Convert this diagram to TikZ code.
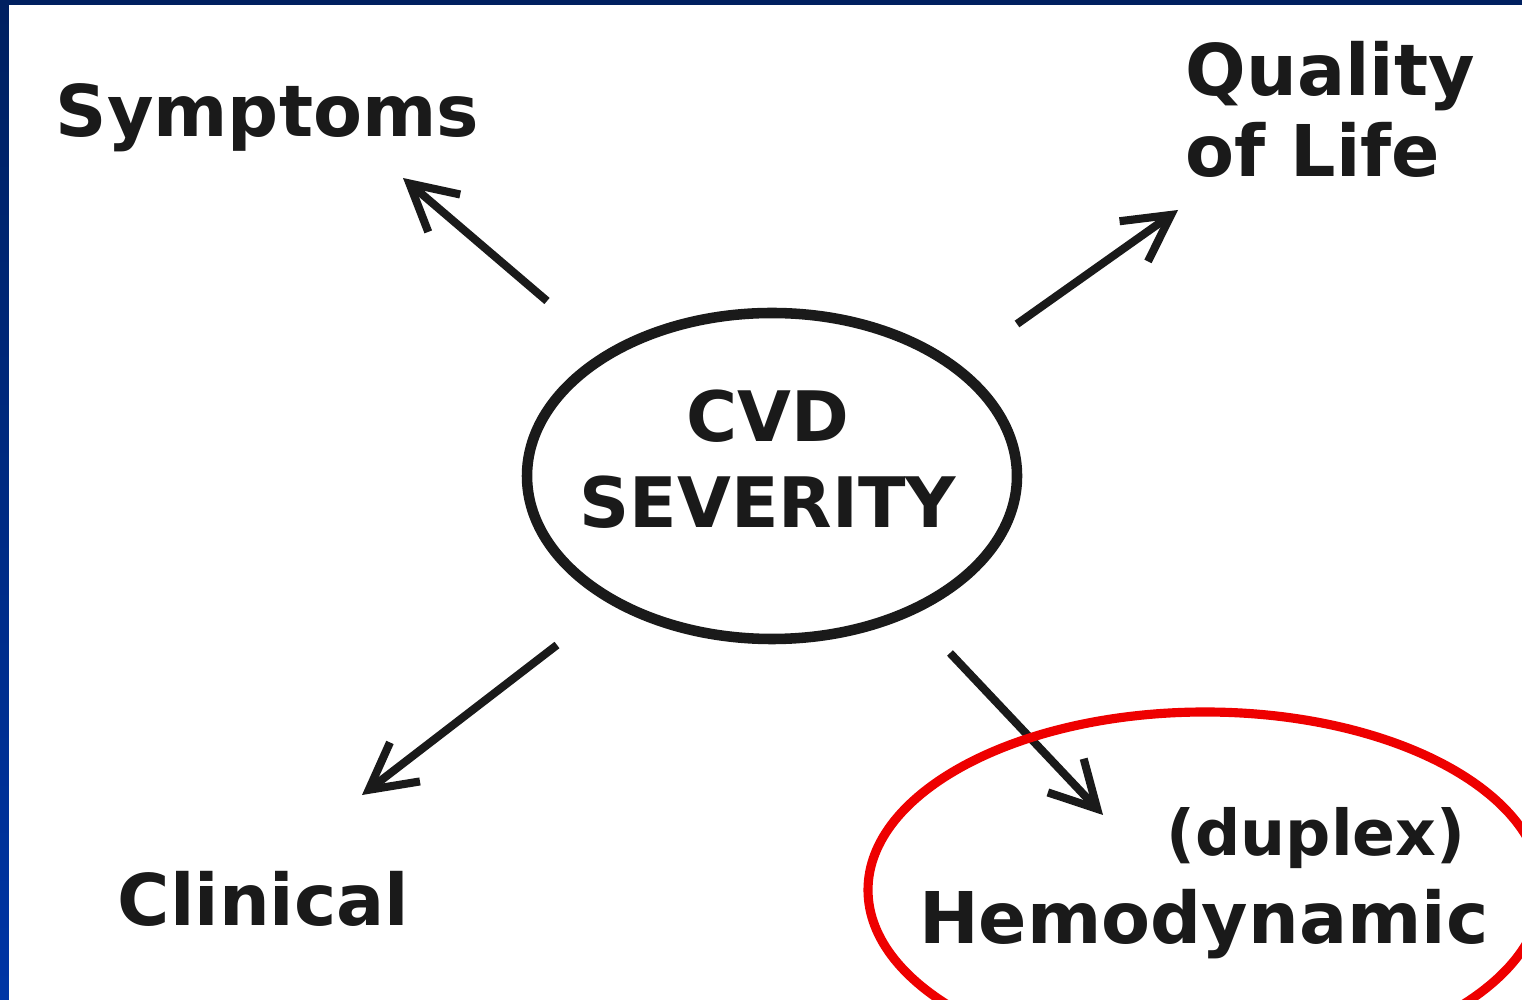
\documentclass[tikz,border=0pt]{standalone}
\usepackage{fontspec}
\setmainfont{DejaVu Sans}
\usepackage{xcolor}
\usetikzlibrary{arrows.meta,shapes.geometric}

\definecolor{inkblack}{HTML}{1A1A1A}
\definecolor{framenavy}{HTML}{002060}
\definecolor{frameblue}{HTML}{0035A5}
\definecolor{markred}{HTML}{EE0000}

\tikzset{
  lbl/.style={inner sep=0pt, text=inkblack, font=\bfseries\fontsize{20.3}{23}\selectfont},
  outarrow/.style={draw=inkblack, line width=2.3pt,
    -{Straight Barb[length=13pt,width=14pt,line width=2.3pt]}}
}

\begin{document}
\begin{tikzpicture}

\useasboundingbox (0,0) rectangle (15.22,9.99);
\fill[white] (0,0) rectangle (15.22,9.99);

% Frame
\shade[bottom color=frameblue, top color=framenavy] (0,0) rectangle (0.09,9.99);
\fill[framenavy] (0,9.94) rectangle (15.22,9.99);

%-------------------------------------------------
% Centre
%-------------------------------------------------

\node[ellipse, draw=inkblack, line width=3pt, minimum width=4.9cm,
  minimum height=3.26cm] (sev) at (7.72,5.23) {};
\node[lbl, align=center, font=\bfseries\fontsize{19.8}{24.5}\selectfont]
  (sevtxt) at (7.68,5.40) {CVD\\SEVERITY};

%-------------------------------------------------
% Outcomes
%-------------------------------------------------

\node[lbl, anchor=base west] (sym) at (0.55,8.62) {Symptoms};
\node[lbl, anchor=north west, align=left] (qol) at (11.85,9.58) {Quality\\of Life};
\node[lbl, anchor=base west] (cli) at (1.17,0.74) {Clinical};
\node[lbl, anchor=base east, font=\bfseries\fontsize{18}{21}\selectfont]
  (dup) at (14.66,1.44) {(duplex)};
\node[lbl, anchor=base east] (hem) at (14.89,0.56) {Hemodynamic};

%-------------------------------------------------
% Arrows
%-------------------------------------------------

\coordinate (symS) at (5.47,6.98);
\coordinate (symE) at (4.03,8.21);
\coordinate (qolS) at (10.17,6.75);
\coordinate (qolE) at (11.78,7.89);
\coordinate (cliS) at (5.57,3.54);
\coordinate (cliE) at (3.62,2.04);
\coordinate (hemS) at (9.50,3.46);
\coordinate (hemE) at (11.03,1.84);

\draw[outarrow] (symS) -- (symE);
\draw[outarrow] (qolS) -- (qolE);
\draw[outarrow] (cliS) -- (cliE);
\draw[outarrow] (hemS) -- (hemE);

% Highlight
\begin{scope}
\clip (0,0) rectangle (15.22,9.99);
\draw[markred, line width=2.6pt] (12.05,1.09) ellipse (3.37 and 1.78);
\end{scope}

\end{tikzpicture}
\end{document}
